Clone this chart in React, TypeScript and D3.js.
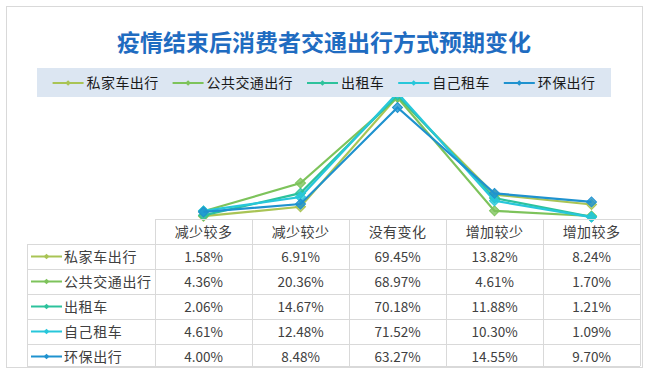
import { useEffect, useRef } from 'react';
import * as d3 from 'd3';

// categories on the x axis / table columns
const categories = ['减少较多', '减少较少', '没有变化', '增加较少', '增加较多'];
const seriesNames = ['私家车出行', '公共交通出行', '出租车', '自己租车', '环保出行'];

// percentages per series
const privateCar = [1.58, 6.91, 69.45, 13.82, 8.24];
const publicTransit = [4.36, 20.36, 68.97, 4.61, 1.7];
const taxi = [2.06, 14.67, 70.18, 11.88, 1.21];
const rentalCar = [4.61, 12.48, 71.52, 10.3, 1.09];
const ecoTravel = [4.0, 8.48, 63.27, 14.55, 9.7];

const seriesValues = [privateCar, publicTransit, taxi, rentalCar, ecoTravel];
const seriesColors = ['#A9C455', '#7DC35B', '#2DC29C', '#27C7DA', '#1F92CF'];

const FONT = '"Noto Sans CJK SC", "Noto Sans", sans-serif';

const App = () => {
  const svgRef = useRef<SVGSVGElement>(null);

  useEffect(() => {
    const width = 649;
    const height = 375;

    const svg = d3.select(svgRef.current)
      .attr('width', width)
      .attr('height', height)
      .style('position', 'absolute')
      .style('left', '0px')
      .style('top', '0px')
      .style('background', '#ffffff');

    svg.selectAll('*').remove();

    // chart frame
    svg.append('rect')
      .attr('x', 6.5).attr('y', 6.5)
      .attr('width', 636).attr('height', 361)
      .attr('fill', '#ffffff')
      .attr('stroke', '#D9D9D9');

    // title
    svg.append('text')
      .attr('x', 324)
      .attr('y', 51)
      .attr('text-anchor', 'middle')
      .style('font-family', FONT)
      .style('font-size', '23px')
      .style('font-weight', 'bold')
      .style('fill', '#1F6CC1')
      .text('疫情结束后消费者交通出行方式预期变化');

    // scales
    const tableLeft = 27;
    const colLeft = 155;
    const tableRight = 640;
    const plotBottom = 219;

    const xScale = d3.scaleBand<string>()
      .domain(categories)
      .range([colLeft, tableRight]);

    const yScale = d3.scaleLinear()
      .domain([0, 80])
      .range([plotBottom, 78]);

    const xCenter = (c: string) => (xScale(c) ?? 0) + xScale.bandwidth() / 2;

    const line = d3.line<number>()
      .x((d, i) => xCenter(categories[i]))
      .y(d => yScale(d));

    // square turned 45deg = excel style diamond
    const diamond = d3.symbol().type(d3.symbolSquare);

    // series lines
    seriesValues.forEach((vals, si) => {
      const g = svg.append('g');
      g.append('path')
        .datum(vals)
        .attr('d', line)
        .attr('fill', 'none')
        .attr('stroke', seriesColors[si])
        .attr('stroke-width', 2.2);
      g.selectAll('path.m')
        .data(vals)
        .enter()
        .append('path')
        .attr('class', 'm')
        .attr('d', diamond.size(50)())
        .attr('transform', (d, i) => `translate(${xCenter(categories[i])},${yScale(d)}) rotate(45)`)
        .attr('fill', seriesColors[si])
        .attr('fill-opacity', 0.8)
        .attr('stroke', seriesColors[si])
        .attr('stroke-width', 1);
    });

    // legend band (drawn over the plot, it hides the peak)
    const legend = svg.append('g');
    legend.append('rect')
      .attr('x', 37).attr('y', 68)
      .attr('width', 574).attr('height', 29)
      .attr('fill', '#DCE6F2');

    const items = legend.append('g');
    let cursor = 0;
    seriesNames.forEach((name, i) => {
      const item = items.append('g').attr('transform', `translate(${cursor},0)`);
      item.append('line')
        .attr('x1', 0).attr('x2', 31)
        .attr('y1', 83).attr('y2', 83)
        .attr('stroke', seriesColors[i])
        .attr('stroke-width', 2);
      item.append('path')
        .attr('d', diamond.size(16)())
        .attr('transform', 'translate(15.5,83) rotate(45)')
        .attr('fill', seriesColors[i]);
      const t = item.append('text')
        .attr('x', 34)
        .attr('y', 88)
        .style('font-family', FONT)
        .style('font-size', '14px')
        .style('letter-spacing', '0.4px')
        .style('fill', '#1a1a1a')
        .text(name);
      const w = (t.node() as SVGTextElement).getComputedTextLength();
      cursor += 34 + w + 14;
    });
    const total = cursor - 14;
    items.attr('transform', `translate(${324 - total / 2},0)`);

    // data table
    const rowTop = 244;
    const rowH = 25;
    const tableBottom = 366;
    const gridColor = '#D9D9D9';
    const table = svg.append('g');

    // header row top line and column separators
    table.append('line')
      .attr('x1', colLeft).attr('x2', tableRight)
      .attr('y1', plotBottom + 0.5).attr('y2', plotBottom + 0.5)
      .attr('stroke', gridColor);
    const cols = [colLeft, ...categories.map(c => (xScale(c) ?? 0) + xScale.bandwidth())];
    cols.forEach(x => {
      table.append('line')
        .attr('x1', Math.round(x) + 0.5).attr('x2', Math.round(x) + 0.5)
        .attr('y1', plotBottom).attr('y2', tableBottom)
        .attr('stroke', gridColor);
    });
    // left edge of name column
    table.append('line')
      .attr('x1', tableLeft + 0.5).attr('x2', tableLeft + 0.5)
      .attr('y1', rowTop).attr('y2', tableBottom)
      .attr('stroke', gridColor);
    // horizontal lines
    const hLines = [rowTop, ...seriesNames.map((_, i) => rowTop + rowH * (i + 1)).slice(0, 4), tableBottom];
    hLines.forEach(y => {
      table.append('line')
        .attr('x1', tableLeft).attr('x2', tableRight)
        .attr('y1', y + 0.5).attr('y2', y + 0.5)
        .attr('stroke', gridColor);
    });

    // header labels
    table.selectAll('text.h')
      .data(categories)
      .enter()
      .append('text')
      .attr('class', 'h')
      .attr('x', d => xCenter(d))
      .attr('y', 237)
      .attr('text-anchor', 'middle')
      .style('font-family', FONT)
      .style('font-size', '14px')
      .style('letter-spacing', '0.4px')
      .style('fill', '#404040')
      .text(d => d);

    // rows
    seriesNames.forEach((name, si) => {
      const cy = rowTop + rowH * si + 12.5;
      table.append('line')
        .attr('x1', 31).attr('x2', 62)
        .attr('y1', cy).attr('y2', cy)
        .attr('stroke', seriesColors[si])
        .attr('stroke-width', 2);
      table.append('path')
        .attr('d', diamond.size(16)())
        .attr('transform', `translate(46.5,${cy}) rotate(45)`)
        .attr('fill', seriesColors[si]);
      table.append('text')
        .attr('x', 64)
        .attr('y', cy + 5)
        .style('font-family', FONT)
        .style('font-size', '14px')
        .style('letter-spacing', '0.6px')
        .style('fill', '#404040')
        .text(name);
      table.selectAll(`text.v${si}`)
        .data(seriesValues[si])
        .enter()
        .append('text')
        .attr('class', `v${si}`)
        .attr('x', (d, i) => xCenter(categories[i]))
        .attr('y', cy + 5)
        .attr('text-anchor', 'middle')
        .style('font-family', FONT)
        .style('font-size', '13.5px')
        .style('fill', '#404040')
        .text(d => `${d.toFixed(2)}%`);
    });
  }, []);

  return <svg ref={svgRef}></svg>;
};

export default App;
